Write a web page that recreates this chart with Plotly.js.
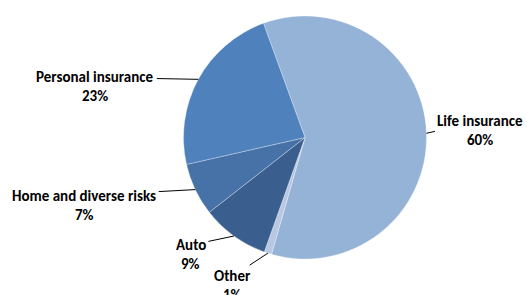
<!DOCTYPE html>
<html>
<head>
<meta charset="utf-8">
<script src="https://cdn.plot.ly/plotly-3.0.1.min.js"></script>
<style>html,body{margin:0;padding:0;background:#fff;}#chart{width:527px;height:295px;}</style>
</head>
<body>
<div id="chart"></div>
<script>
const categories = ["Life insurance", "Other", "Auto", "Home and diverse risks", "Personal insurance"];
const values = [60, 1, 9, 7, 23];
const colors = ["#95B3D7", "#B9C7E2", "#3A5F8E", "#4672A7", "#4F81BD"];

// label placement (pixel offsets from leader-line anchor to first-line centre)
const labelOffsets = [[54, -12], [-35, 23], [-43, 9], [-111, 6], [-103, -2]];

const W = 527, H = 295;
const cx = 305, cy = 137.5, R = 121.5;
const rotation = -20;

const total = values.reduce((a, b) => a + b, 0);
const annotations = [];
let acc = 0;
values.forEach((v, i) => {
  const mid = rotation + (acc + v / 2) / total * 360;
  acc += v;
  const t = mid * Math.PI / 180;
  const px = cx + R * Math.sin(t);
  const py = cy - R * Math.cos(t);
  const [ox, oy] = labelOffsets[i];
  const font = {family: "Carlito, Lato, 'Open Sans', sans-serif", size: 15, color: "#000", weight: "bold"};
  annotations.push({
    x: px / W, y: 1 - py / H, xref: "paper", yref: "paper",
    text: categories[i], showarrow: true, arrowhead: 0, arrowwidth: 1, arrowcolor: "#000",
    ax: ox, ay: oy, standoff: 0, startstandoff: 1, font: font
  });
  annotations.push({
    x: (px + ox) / W, y: 1 - (py + oy + 19) / H, xref: "paper", yref: "paper",
    text: Math.round(v / total * 100) + "%", showarrow: false, font: font,
    xanchor: "center", yanchor: "middle"
  });
});

const trace = {
  type: "pie",
  labels: categories,
  values: values,
  sort: false,
  direction: "clockwise",
  rotation: rotation,
  marker: {colors: colors, line: {color: "rgba(255,255,255,0.6)", width: 0.5}},
  textinfo: "none",
  hoverinfo: "none",
  showlegend: false,
  domain: {x: [(cx - R) / W, (cx + R) / W], y: [1 - (cy + R) / H, 1 - (cy - R) / H]}
};

Plotly.newPlot("chart", [trace], {
  width: W, height: H,
  margin: {l: 0, r: 0, t: 0, b: 0},
  paper_bgcolor: "#fff",
  showlegend: false,
  annotations: annotations
}, {staticPlot: true});
</script>
</body>
</html>
